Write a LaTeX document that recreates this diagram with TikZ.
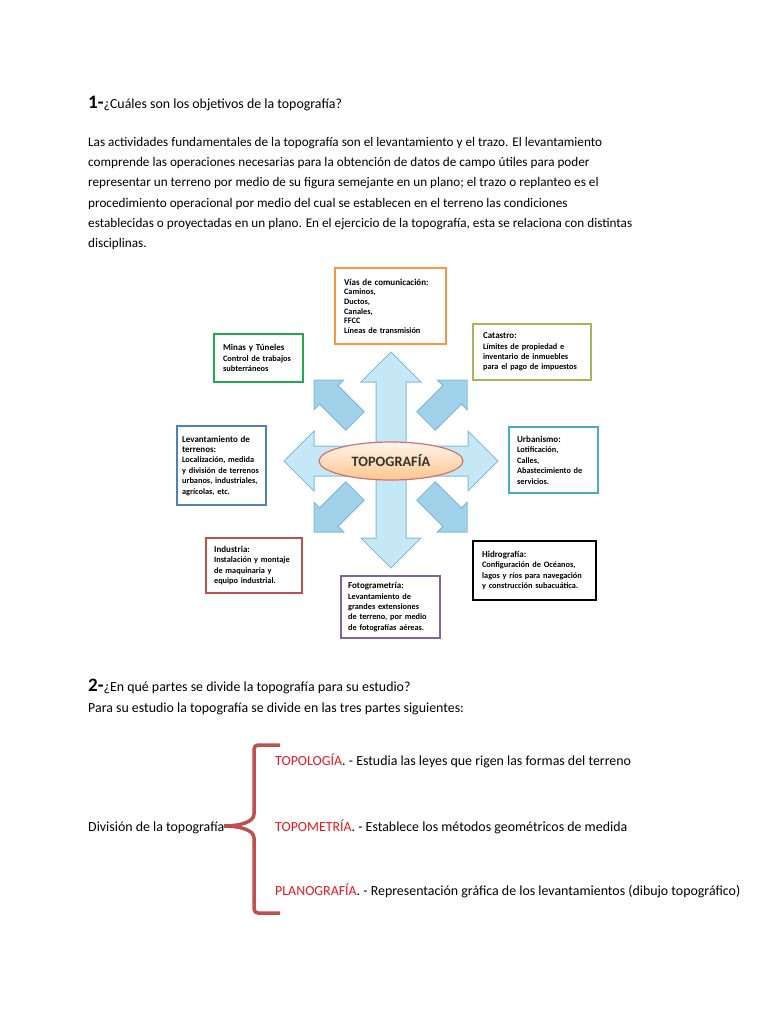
\documentclass[tikz,border=0pt]{standalone}
\usepackage{fontspec}
\setmainfont{Carlito}
\usepackage{xcolor}
\usepackage{tikz}
\usetikzlibrary{positioning,shapes.geometric}
\definecolor{boxorange}{HTML}{F79646}
\definecolor{boxgreen}{HTML}{1FAA4E}
\definecolor{boxolive}{HTML}{9BBB59}
\definecolor{boxblue}{HTML}{4F81BD}
\definecolor{boxteal}{HTML}{4BACC6}
\definecolor{boxred}{HTML}{C0504D}
\definecolor{boxpurple}{HTML}{8064A2}
\definecolor{partred}{HTML}{E8191F}
\definecolor{arrowfill}{HTML}{C6E8F6}
\definecolor{arrowdiag}{HTML}{A0D3E9}
\definecolor{arrowline}{HTML}{80BCD8}

\begin{document}
\begin{tikzpicture}[
    x=1pt, y=-1pt,
    body/.style={anchor=north west, align=left, inner sep=0pt, font=\fontsize{13.2}{20.3}\selectfont},
    area/.style={draw, line width=2.2pt, fill=white, align=left, inner sep=0pt, anchor=north west, font=\fontsize{8.3}{10.4}\selectfont\bfseries},
    bigarrow/.style={fill=arrowfill, draw=arrowline, line width=1pt, line join=miter},
    smallarrow/.style={fill=arrowdiag, draw=arrowline, line width=1pt, line join=miter},
    part/.style={anchor=base west, inner sep=0pt, font=\fontsize{13.9}{16}\selectfont},
    brace/.style={draw=boxred, line width=3.5pt, rounded corners=4pt}
]
\useasboundingbox[fill=white] (0,0) rectangle (768,1024);

% question 1
\node[part] (q1) at (88,109)
  {{\fontsize{19}{20}\selectfont\bfseries 1-}¿Cuáles son los objetivos de la topografía?};
\node[body] (intro) at (88,137) {Las actividades fundamentales de la topografía son el levantamiento y el trazo. El levantamiento\\
comprende las operaciones necesarias para la obtención de datos de campo útiles para poder\\
representar un terreno por medio de su figura semejante en un plano; el trazo o replanteo es el\\
procedimiento operacional por medio del cual se establecen en el terreno las condiciones\\
establecidas o proyectadas en un plano. En el ejercicio de la topografía, esta se relaciona con distintas\\
disciplinas.};

% diagonal arrows
\foreach \tx/\ty/\ang in {314/380/135, 467/380/45, 314/532/225, 467/532/315}
  \draw[smallarrow, shift={(\tx,\ty)}, rotate=\ang]
    (0,0) -- (-21,21) -- (-21,13) -- (-58,13) -- (-58,-13) -- (-21,-13) -- (-21,-21) -- cycle;

% cross arrows
\draw[bigarrow] (284,461) -- (314,431) -- (314,446) -- (468,446) -- (468,431) -- (498,461)
  -- (468,491) -- (468,476) -- (314,476) -- (314,491) -- cycle;
\draw[bigarrow] (391,352) -- (421,382) -- (406,382) -- (406,538) -- (421,538) -- (391,568)
  -- (361,538) -- (376,538) -- (376,382) -- (361,382) -- cycle;

\node[ellipse, draw=boxred!80, line width=1.2pt, top color=orange!8, bottom color=orange!45,
  minimum width=144, minimum height=38, inner sep=0pt,
  font=\fontsize{14.3}{15}\selectfont\bfseries, text=black!80] (topo) at (391,461) {TOPOGRAFÍA};

% surrounding boxes
\node[area, draw=boxorange, minimum width=111, minimum height=76, text width=93,
  font=\fontsize{8.3}{9.6}\selectfont\bfseries] (vias) at (334,267)
  {{\fontsize{9}{9.6}\selectfont Vías de comunicación:}\\Caminos,\\Ductos,\\Canales,\\FFCC\\Líneas de transmisión};
\node[area, draw=boxgreen, minimum width=89, minimum height=48, text width=71] (minas) at (213,333)
  {{\fontsize{9}{10.4}\selectfont Minas y Túneles}\\Control de trabajos\\subterráneos};
\node[area, draw=boxolive, minimum width=118, minimum height=56, text width=98] (catastro) at (472,323)
  {{\fontsize{9}{10.4}\selectfont Catastro:}\\Límites de propiedad e\\inventario de inmuebles\\para el pago de impuestos};
\node[area, draw=boxblue, minimum width=89, minimum height=79, text width=79] (levant) at (176,425)
  {{\fontsize{9}{10.4}\selectfont Levantamiento de}\\{\fontsize{9}{10.4}\selectfont terrenos:}\\Localización, medida\\y división de terrenos\\urbanos, industriales,\\agrícolas, etc.};
\node[area, draw=boxteal, minimum width=89, minimum height=66, text width=73] (urban) at (508,426)
  {{\fontsize{9}{10.4}\selectfont Urbanismo:}\\Lotificación,\\Calles,\\Abastecimiento de\\servicios.};
\node[area, draw=boxred, minimum width=96, minimum height=55, text width=80] (industria) at (205,537)
  {{\fontsize{9}{10.4}\selectfont Industria:}\\Instalación y montaje\\de maquinaria y\\equipo industrial.};
\node[area, draw=black, minimum width=123, minimum height=59, text width=105] (hidro) at (472,540)
  {{\fontsize{9}{10.4}\selectfont Hidrografía:}\\Configuración de Océanos,\\lagos y ríos para navegación\\y construcción subacuática.};
\node[area, draw=boxpurple, minimum width=99, minimum height=62, text width=85] (foto) at (340,575)
  {{\fontsize{9}{10.4}\selectfont Fotogrametría:}\\Levantamiento de\\grandes extensiones\\de terreno, por medio\\de fotografías aéreas.};

% question 2
\node[part] (q2) at (88,691)
  {{\fontsize{19}{20}\selectfont\bfseries 2-}¿En qué partes se divide la topografía para su estudio?};
\node[part] (q2text) at (88,712) {Para su estudio la topografía se divide en las tres partes siguientes:};

\node[part] (division) at (88,831) {División de la topografía};
\node[part] (topologia) at (275,765) {\textcolor{partred}{TOPOLOGÍA}. - Estudia las leyes que rigen las formas del terreno};
\node[part] (topometria) at (275,831) {\textcolor{partred}{TOPOMETRÍA}. - Establece los métodos geométricos de medida};
\node[part] (planografia) at (275,895) {\textcolor{partred}{PLANOGRAFÍA}. - Representación gráfica de los levantamientos (dibujo topográfico)};

\coordinate (tip) at (224,826);
\draw[brace] (280,745) -- (254,745) -- (254,810) .. controls (254,822) and (240,826) .. (tip);
\draw[brace] (280,913) -- (254,913) -- (254,842) .. controls (254,830) and (240,826) .. (tip);
\end{tikzpicture}
\end{document}
